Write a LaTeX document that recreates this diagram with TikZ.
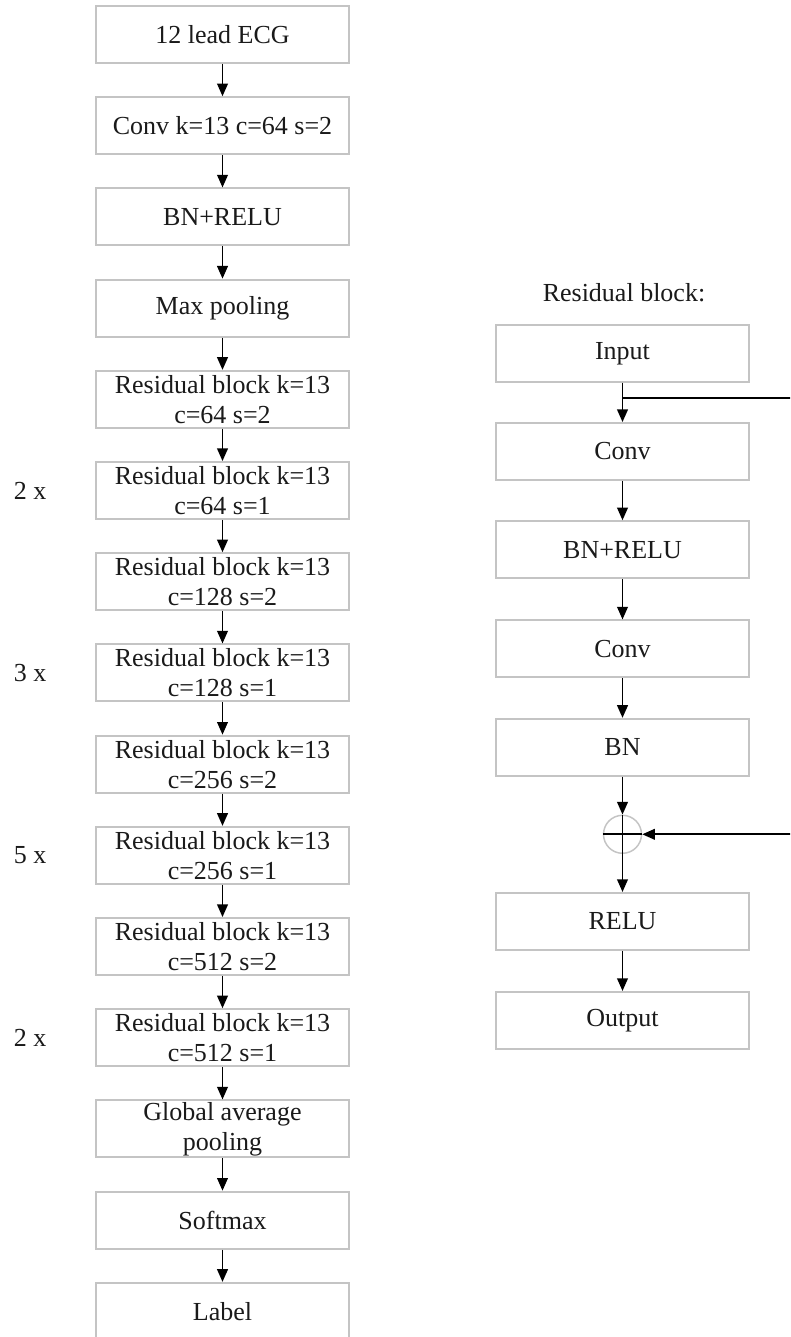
\documentclass[tikz,border=0pt]{standalone}
\usepackage{fontspec}
\setmainfont{Liberation Serif}
\usetikzlibrary{arrows.meta}
\definecolor{boxline}{HTML}{C4C4C4}
\definecolor{txt}{HTML}{1A1A1A}
\tikzset{
  blk/.style={draw=boxline, line width=1.4pt, rectangle, minimum width=190pt, minimum height=42.75pt, inner sep=0pt, align=center, text=txt, font=\fontsize{19.5}{22.5}\selectfont},
  arr/.style={draw=black, line width=1.4pt, -{Triangle[length=9.5pt,width=8pt]}},
  ln/.style={draw=black, line width=1.4pt},
  lab/.style={text=txt, font=\fontsize{19.5}{22.5}\selectfont, inner sep=0pt}
}
\begin{document}
\begin{tikzpicture}[x=0.75pt,y=-0.75pt]
\path[use as bounding box, clip] (0,0) rectangle (790,1337);
\fill[white] (0,0) rectangle (790,1337);
% left column
\node[blk] (l0) at (222.5,34.5) {12 lead ECG};
\node[blk] (l1) at (222.5,125.7) {Conv k=13 c=64 s=2};
\node[blk] (l2) at (222.5,216.9) {BN+RELU};
\node[blk] (l3) at (222.5,308.1) {Max pooling};
\node[blk] (l4) at (222.5,399.3) {Residual block k=13\\c=64 s=2};
\node[blk] (l5) at (222.5,490.5) {Residual block k=13\\c=64 s=1};
\node[blk] (l6) at (222.5,581.7) {Residual block k=13\\c=128 s=2};
\node[blk] (l7) at (222.5,672.9) {Residual block k=13\\c=128 s=1};
\node[blk] (l8) at (222.5,764.1) {Residual block k=13\\c=256 s=2};
\node[blk] (l9) at (222.5,855.3) {Residual block k=13\\c=256 s=1};
\node[blk] (l10) at (222.5,946.5) {Residual block k=13\\c=512 s=2};
\node[blk] (l11) at (222.5,1037.7) {Residual block k=13\\c=512 s=1};
\node[blk] (l12) at (222.5,1128.9) {Global average\\pooling};
\node[blk] (l13) at (222.5,1220.1) {Softmax};
\node[blk] (l14) at (222.5,1311.3) {Label};
\foreach \a/\b in {l0/l1,l1/l2,l2/l3,l3/l4,l4/l5,l5/l6,l6/l7,l7/l8,l8/l9,l9/l10,l10/l11,l11/l12,l12/l13,l13/l14}
  \draw[arr] (\a.south) -- (\b.north);
% multipliers
\node[lab] (m1) at (30,490.5) {2 x};
\node[lab] (m2) at (30,672.9) {3 x};
\node[lab] (m3) at (30,855.3) {5 x};
\node[lab] (m4) at (30,1037.7) {2 x};
% right column
\node[lab] (rt) at (624,293) {Residual block:};
\node[blk] (r0) at (622.5,353.3) {Input};
\node[blk] (r1) at (622.5,451.5) {Conv};
\node[blk] (r2) at (622.5,549.7) {BN+RELU};
\node[blk] (r3) at (622.5,648.9) {Conv};
\node[blk] (r4) at (622.5,747.3) {BN};
\node[circle, draw=boxline, line width=1.1pt, minimum size=28.5pt, inner sep=0pt] (sum) at (622.5,834.3) {};
\node[blk] (r5) at (622.5,921.4) {RELU};
\node[blk] (r6) at (622.5,1020.4) {Output};
\draw[arr] (r0.south) -- (r1.north);
\draw[arr] (r1.south) -- (r2.north);
\draw[arr] (r2.south) -- (r3.north);
\draw[arr] (r3.south) -- (r4.north);
\draw[arr] (r4.south) -- (sum.north);
\draw[ln] (sum.north) -- (sum.south);
\draw[ln] (sum.west) -- (sum.east);
\draw[arr] (sum.south) -- (r5.north);
\draw[arr] (r5.south) -- (r6.north);
% skip connection
\coordinate (sk) at (622.5,398);
\coordinate (sk1) at (815,398);
\coordinate (sk2) at (815,834.3);
\draw[arr] (sk) -- (sk1) -- (sk2) -- (sum.east);
\end{tikzpicture}
\end{document}
